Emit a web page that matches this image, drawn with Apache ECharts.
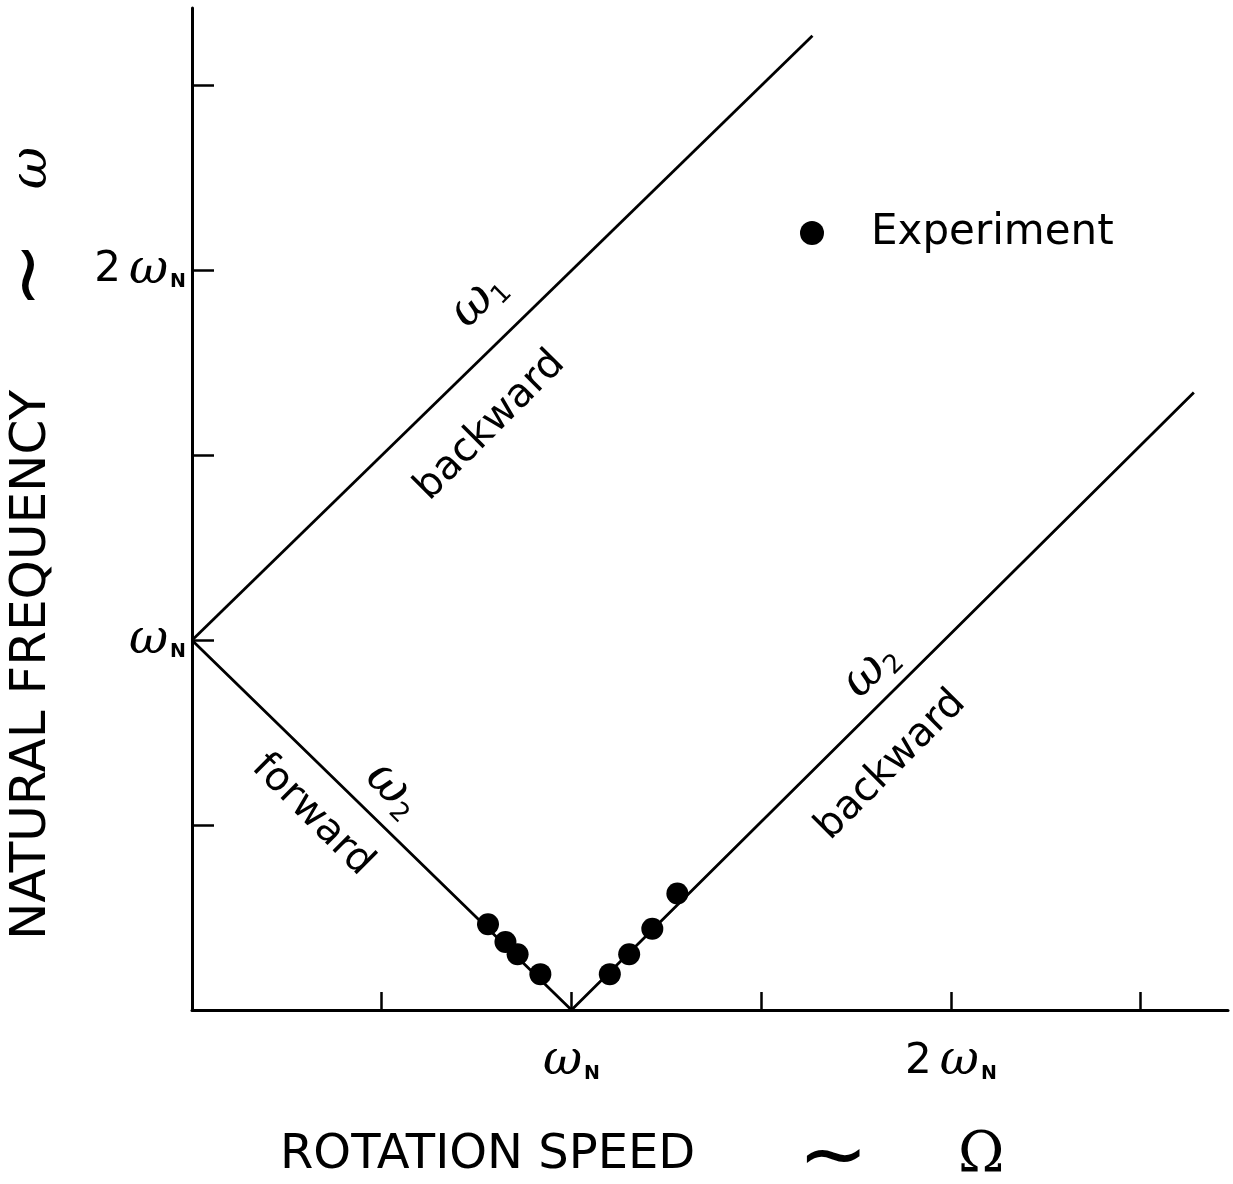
<!DOCTYPE html>
<html>
<head>
<meta charset="utf-8">
<script src="https://cdn.jsdelivr.net/npm/echarts@6/dist/echarts.min.js"></script>
<style>
  html, body { margin: 0; padding: 0; background: #fff; }
  #chart { width: 1233px; height: 1184px; }
</style>
</head>
<body>
<div id="chart"></div>
<script>
// values in units of omega_N
const omega1Line = [[0, 1], [1.635, 2.635]]
const omega2Line = [[0, 1], [1, 0], [2.64, 1.67]]
const expX = [0.780, 0.826, 0.858, 0.918, 1.101, 1.152, 1.213, 1.279]
const expY = [0.232, 0.184, 0.151, 0.097, 0.097, 0.151, 0.220, 0.315]
const tickValues = [0.5, 1, 1.5, 2, 2.5]
const labelValues = [1, 2]
// annotations along the curves: text, x, y, rotation
const annotText = ['{w|ω}{s|1}', 'backward', '{w|ω}{s|2}', 'forward', '{w|ω}{s|2}', 'backward']
const annotX = [0.755, 0.786, 0.530, 0.317, 1.789, 1.842]
const annotY = [1.92, 1.58, 0.595, 0.527, 0.919, 0.662]
const annotRot = [45, 45, -45, -45, 45, 45]

let myChart = echarts.init(document.getElementById('chart'))

const wRich = {
  w: { fontFamily: 'DejaVu Serif', fontStyle: 'italic', fontSize: 48, color: '#000' },
  n: { fontFamily: 'DejaVu Sans', fontWeight: 'bold', fontSize: 19, color: '#000', padding: [24, 0, 0, 2] },
  d: { fontFamily: 'DejaVu Sans', fontSize: 42, color: '#000', padding: [0, 8, 0, 0] }
}
function omegaLabel (v) {
  if (v === 1) return '{w|ω}{n|N}'
  if (v === 2) return '{d|2}{w|ω}{n|N}'
  return ''
}

let annotData = annotText.map((t, i) => ({
  value: [annotX[i], annotY[i]],
  label: { formatter: t, rotate: annotRot[i] }
}))

let option = {
  animation: false,
  backgroundColor: '#fff',
  grid: { left: 192, right: 5, top: 8, bottom: 174 },
  legend: {
    data: [{ name: 'Experiment', icon: 'circle' }],
    left: 795,
    top: 207,
    itemWidth: 24,
    itemHeight: 24,
    textStyle: { fontFamily: 'DejaVu Sans', fontSize: 42, color: '#000', padding: [0, 0, 0, 42] }
  },
  xAxis: {
    type: 'value',
    min: 0,
    max: 2.73,
    interval: 0.5,
    splitLine: { show: false },
    axisLine: { onZero: false, lineStyle: { color: '#000', width: 3 } },
    axisTick: { inside: true, length: 18, customValues: tickValues, lineStyle: { color: '#000', width: 2.5 } },
    axisLabel: { customValues: labelValues, margin: 28, formatter: omegaLabel, rich: wRich }
  },
  yAxis: {
    type: 'value',
    min: 0,
    max: 2.71,
    interval: 0.5,
    splitLine: { show: false },
    axisLine: { onZero: false, lineStyle: { color: '#000', width: 3 } },
    axisTick: { inside: true, length: 22, customValues: tickValues, lineStyle: { color: '#000', width: 2.5 } },
    axisLabel: { customValues: labelValues, margin: 6, formatter: omegaLabel, rich: wRich }
  },
  graphic: [
    {
      type: 'text', left: 280, top: 1132,
      style: { text: 'ROTATION SPEED', fontFamily: 'DejaVu Sans', fontSize: 48, fill: '#000' }
    },
    {
      type: 'text', left: 798, top: 1118,
      style: { text: '~', fontFamily: 'DejaVu Sans', fontSize: 84, fill: '#000' }
    },
    {
      type: 'text', left: 958, top: 1128,
      style: { text: 'Ω', fontFamily: 'DejaVu Serif', fontSize: 56, fill: '#000' }
    },
    {
      type: 'text', x: 32, y: 665, rotation: Math.PI / 2,
      style: { text: 'NATURAL FREQUENCY', fontFamily: 'DejaVu Sans', fontSize: 50, fill: '#000', align: 'center', verticalAlign: 'middle' }
    },
    {
      type: 'text', x: 32, y: 275, rotation: Math.PI / 2,
      style: { text: '~', fontFamily: 'DejaVu Sans', fontSize: 80, fill: '#000', align: 'center', verticalAlign: 'middle' }
    },
    {
      type: 'text', x: 32, y: 168, rotation: Math.PI / 2,
      style: { text: 'ω', fontFamily: 'DejaVu Serif', fontStyle: 'italic', fontSize: 52, fill: '#000', align: 'center', verticalAlign: 'middle' }
    }
  ],
  series: [
    {
      name: 'omega1',
      type: 'line',
      data: omega1Line,
      showSymbol: false,
      lineStyle: { color: '#000', width: 2.8 }
    },
    {
      name: 'omega2',
      type: 'line',
      data: omega2Line,
      showSymbol: false,
      lineStyle: { color: '#000', width: 2.8 }
    },
    {
      name: 'Experiment',
      type: 'scatter',
      data: expX.map((x, i) => [x, expY[i]]),
      symbolSize: 22,
      itemStyle: { color: '#000', opacity: 1 },
      z: 5
    },
    {
      name: 'notes',
      type: 'scatter',
      data: annotData,
      symbolSize: 0,
      silent: true,
      itemStyle: { opacity: 1 },
      label: {
        show: true,
        position: 'inside',
        fontFamily: 'DejaVu Sans',
        fontSize: 40,
        color: '#000',
        opacity: 1,
        rich: {
          w: { fontFamily: 'DejaVu Serif', fontStyle: 'italic', fontSize: 50, color: '#000' },
          s: { fontFamily: 'DejaVu Sans', fontSize: 26, color: '#000', padding: [26, 0, 0, 0] }
        }
      }
    }
  ]
}
myChart.setOption(option)
</script>
</body>
</html>
